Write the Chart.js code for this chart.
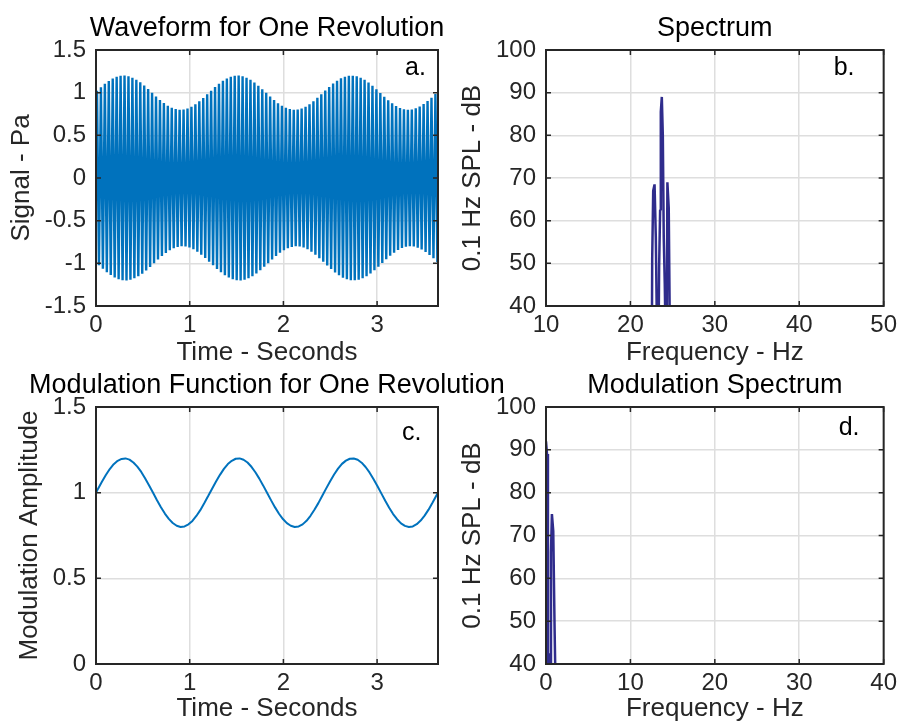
<!DOCTYPE html>
<html>
<head>
<meta charset="utf-8">
<script src="https://cdn.jsdelivr.net/npm/chart.js@4.4.1/dist/chart.umd.min.js"></script>
<style>
  body { margin: 0; background: #fff; }
  #wrap { position: relative; width: 902px; height: 724px; }
  #wrap canvas { position: absolute; left: 0; top: 0; }
</style>
</head>
<body>
<div id="wrap">
  <canvas id="waveChart" width="902" height="724"></canvas>
  <canvas id="spectrumChart" width="902" height="724"></canvas>
  <canvas id="modChart" width="902" height="724"></canvas>
  <canvas id="modSpectrumChart" width="902" height="724"></canvas>
</div>
<script>
// tick labels
const timeTicks = [0, 1, 2, 3];
const signalTicks = [-1.5, -1, -0.5, 0, 0.5, 1, 1.5];
const ampTicks = [0, 0.5, 1, 1.5];
const dbTicks = [40, 50, 60, 70, 80, 90, 100];
const spectrumFreqTicks = [10, 20, 30, 40, 50];
const modFreqTicks = [0, 10, 20, 30, 40];

const modTime = [0,
  0.021, 0.063, 0.105, 0.147, 0.189, 0.231, 0.273, 0.315, 0.357, 0.399,
  0.441, 0.483, 0.525, 0.567, 0.609, 0.651, 0.693, 0.735, 0.777, 0.819,
  0.861, 0.903, 0.945, 0.987, 1.029, 1.071, 1.113, 1.155, 1.197, 1.239,
  1.281, 1.323, 1.365, 1.407, 1.449, 1.491, 1.533, 1.575, 1.617, 1.659,
  1.701, 1.743, 1.785, 1.827, 1.869, 1.911, 1.953, 1.995, 2.037, 2.079,
  2.121, 2.163, 2.205, 2.247, 2.289, 2.331, 2.373, 2.415, 2.457, 2.499,
  2.541, 2.583, 2.625, 2.667, 2.709, 2.751, 2.793, 2.835, 2.877, 2.919,
  2.961, 3.003, 3.045, 3.087, 3.129, 3.171, 3.213, 3.255, 3.297, 3.339,
  3.381, 3.423, 3.465, 3.507, 3.549, 3.591, 3.633,
  3.65];
const modAmp = [1.000,
  1.022, 1.064, 1.103, 1.138, 1.166, 1.186, 1.197, 1.200, 1.193, 1.176,
  1.152, 1.121, 1.083, 1.042, 0.999, 0.956, 0.915, 0.878, 0.847, 0.823,
  0.807, 0.800, 0.803, 0.815, 0.835, 0.864, 0.898, 0.938, 0.980, 1.023,
  1.065, 1.104, 1.139, 1.167, 1.186, 1.198, 1.200, 1.192, 1.176, 1.151,
  1.119, 1.082, 1.041, 0.998, 0.955, 0.914, 0.877, 0.846, 0.822, 0.807,
  0.800, 0.803, 0.815, 0.836, 0.865, 0.900, 0.939, 0.982, 1.025, 1.067,
  1.106, 1.140, 1.168, 1.187, 1.198, 1.199, 1.192, 1.175, 1.150, 1.118,
  1.080, 1.039, 0.996, 0.953, 0.912, 0.875, 0.845, 0.821, 0.806, 0.800,
  0.803, 0.816, 0.837, 0.866, 0.901, 0.941, 0.983,
  1.000];
// carrier ~23.8 Hz: peak and trough sit a quarter period either side of each cycle time
const carrierQuarter = 0.0105;

// spectrum around the carrier (dB, values below 40 fall off the axis)
const specFreq = [22.54, 22.58, 22.70, 22.86, 23.01, 23.17, 23.33, 23.40, 23.52, 23.60,
  23.72, 23.84, 23.95, 24.07, 24.19, 24.30, 24.38, 24.54, 24.69];
const specLevel = [30, 51, 67, 68.5, 56, 30, 30, 49, 62.5, 85.5,
  89, 80, 56, 45, 30, 30, 69, 63, 30];

// modulation spectrum
const modSpecFreq = [0, 0.12, 0.23, 0.38, 0.43, 0.50, 0.59, 0.70, 0.86, 1.02, 1.17];
const modSpecLevel = [92, 89, 30, 30, 42.5, 30, 66, 75, 71, 48, 30];

const FONT = '"Liberation Sans", Helvetica, Arial, sans-serif';
const INK = '#262626';
const BLUE = '#0072bd';
const NAVY = '#2f2c8c';
Chart.defaults.font.family = FONT;

// waveform: + peak then - trough for every carrier cycle
const wavePoints = [{x: modTime[0], y: 0}];
for (let i = 1; i < modTime.length - 1; i++) {
  wavePoints.push({x: modTime[i] - carrierQuarter, y: modAmp[i]});
  wavePoints.push({x: modTime[i] + carrierQuarter, y: -modAmp[i]});
}
wavePoints.push({x: modTime[modTime.length - 1], y: 0});

const toPoints = (xs, ys) => xs.map((x, i) => ({x: x, y: ys[i]}));

// box, inward ticks, title and panel letter
const panelPlugin = {
  id: 'panel',
  afterDraw(chart, args, opts) {
    const {ctx, chartArea: a, scales} = chart;
    ctx.save();
    ctx.strokeStyle = INK;
    ctx.lineWidth = 1.5;
    ctx.beginPath();
    scales.x.ticks.forEach(t => {
      const px = scales.x.getPixelForValue(t.value);
      ctx.moveTo(px, a.bottom); ctx.lineTo(px, a.bottom - 5);
      ctx.moveTo(px, a.top); ctx.lineTo(px, a.top + 5);
    });
    scales.y.ticks.forEach(t => {
      const py = scales.y.getPixelForValue(t.value);
      ctx.moveTo(a.left, py); ctx.lineTo(a.left + 5, py);
      ctx.moveTo(a.right, py); ctx.lineTo(a.right - 5, py);
    });
    ctx.stroke();
    ctx.lineWidth = 2;
    ctx.strokeRect(a.left, a.top, a.right - a.left, a.bottom - a.top);

    ctx.fillStyle = '#000';
    ctx.textBaseline = 'alphabetic';
    ctx.font = '27px ' + FONT;
    ctx.textAlign = 'center';
    ctx.fillText(opts.title, (a.left + a.right) / 2, a.top - 14);
    ctx.font = '25px ' + FONT;
    ctx.textAlign = 'left';
    ctx.fillText(opts.tag, a.right - opts.tagRight, a.top + opts.tagDown);
    ctx.restore();
  }
};

function xAxis(min, max, ticks, label, height) {
  return {
    type: 'linear', min: min, max: max,
    afterBuildTicks: s => { s.ticks = ticks.map(v => ({value: v})); },
    afterFit: s => { s.height = height; },
    grid: { color: '#dedede', lineWidth: 1.5, drawTicks: false },
    border: { display: false },
    ticks: { color: INK, font: { size: 24 }, padding: 5, maxRotation: 0, autoSkip: false,
      callback: v => String(v) },
    title: { display: true, text: label, color: INK, font: { size: 26 }, padding: 0 }
  };
}

function yAxis(min, max, ticks, label, width) {
  return {
    type: 'linear', min: min, max: max,
    afterBuildTicks: s => { s.ticks = ticks.map(v => ({value: v})); },
    afterFit: s => { s.width = width; },
    grid: { color: '#dedede', lineWidth: 1.5, drawTicks: false },
    border: { display: false },
    ticks: { color: INK, font: { size: 24 }, padding: 10, autoSkip: false,
      callback: v => String(v) },
    title: { display: true, text: label, color: INK, font: { size: 26 }, padding: 0 }
  };
}

function panel(id, points, color, width, padding, xs, ys, panelOpts) {
  return new Chart(document.getElementById(id), {
    type: 'line',
    data: {
      datasets: [{
        data: points,
        borderColor: color,
        borderWidth: width,
        borderJoinStyle: 'bevel',
        pointRadius: 0,
        tension: 0,
        fill: false
      }]
    },
    options: {
      responsive: false,
      animation: false,
      events: [],
      layout: { padding: padding },
      plugins: { legend: { display: false }, tooltip: { enabled: false }, panel: panelOpts },
      scales: { x: xs, y: ys }
    },
    plugins: [panelPlugin]
  });
}

panel('waveChart', wavePoints, BLUE, 2.4,
  { left: 6, top: 50, right: 464, bottom: 356 },
  xAxis(0, 3.65, timeTicks, 'Time - Seconds', 62),
  yAxis(-1.5, 1.5, signalTicks, 'Signal - Pa', 90),
  { title: 'Waveform for One Revolution', tag: 'a.', tagRight: 33, tagDown: 25 });

panel('spectrumChart', toPoints(specFreq, specLevel), NAVY, 2.5,
  { left: 457, top: 50, right: 15, bottom: 356 },
  xAxis(10, 50, spectrumFreqTicks, 'Frequency - Hz', 62),
  yAxis(40, 100, dbTicks, '0.1 Hz SPL - dB', 89),
  { title: 'Spectrum', tag: 'b.', tagRight: 50, tagDown: 25 });

panel('modChart', toPoints(modTime, modAmp), BLUE, 2,
  { left: 14, top: 407, right: 464, bottom: 0 },
  xAxis(0, 3.65, timeTicks, 'Time - Seconds', 60),
  yAxis(0, 1.5, ampTicks, 'Modulation Amplitude', 82),
  { title: 'Modulation Function for One Revolution', tag: 'c.', tagRight: 36, tagDown: 33 });

panel('modSpectrumChart', toPoints(modSpecFreq, modSpecLevel), NAVY, 2.5,
  { left: 457, top: 407, right: 15, bottom: 0 },
  xAxis(0, 40, modFreqTicks, 'Frequency - Hz', 60),
  yAxis(40, 100, dbTicks, '0.1 Hz SPL - dB', 89),
  { title: 'Modulation Spectrum', tag: 'd.', tagRight: 45, tagDown: 28 });
</script>
</body>
</html>
